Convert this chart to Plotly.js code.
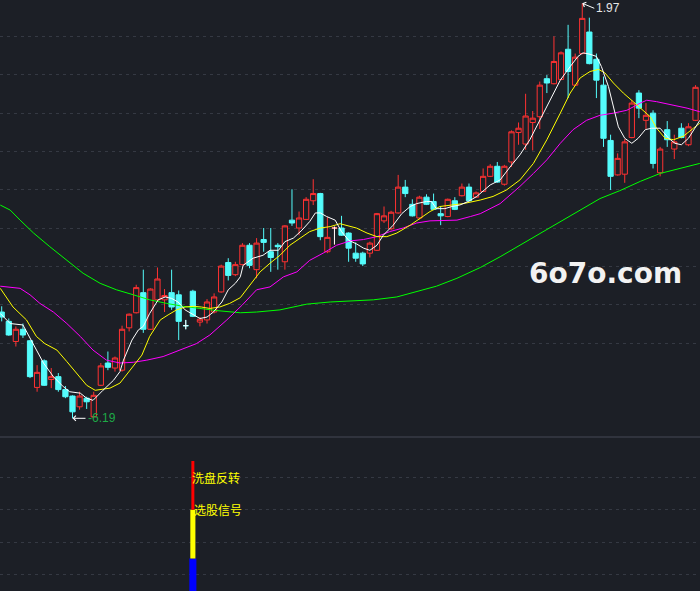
<!DOCTYPE html>
<html>
<head>
<meta charset="utf-8">
<script src="https://cdn.plot.ly/plotly-3.0.1.min.js"></script>
<style>
html,body{margin:0;padding:0;background:#1c1f26;}
#chart{width:700px;height:591px;}
#chart .plot path{shape-rendering:crispEdges;}
</style>
</head>
<body>
<div id="chart"></div>
<script>
// ---- candle data (price) ----
const openP  = [7.67,7.54,7.26,7.43,7.27,6.62,6.99,6.73,6.77,6.59,6.50,6.35,6.47,6.21,6.65,6.96,6.89,6.86,7.45,7.66,
                7.94,7.43,7.84,7.84,7.94,7.91,7.48,7.96,7.53,7.56,7.67,7.95,8.36,8.19,8.33,8.60,8.26,8.68,8.51,8.60,
                8.37,8.95,8.84,8.96,9.22,9.32,8.51,8.84,8.84,8.77,8.49,8.49,8.49,8.53,8.94,8.83,9.05,9.41,9.17,8.98,
                9.27,9.21,9.04,9.00,9.22,9.29,9.41,9.27,9.35,9.56,9.70,9.45,9.76,10.17,10.01,10.31,10.39,10.92,10.85,10.91,
                11.33,10.83,11.27,11.57,11.19,10.83,10.06,9.58,9.59,10.10,10.72,10.34,10.44,9.61,10.21,9.94,10.23,10.00,10.34];
const highP  = [7.75,7.58,7.47,7.51,7.28,6.93,7.01,6.89,6.82,6.64,6.51,6.56,6.49,6.56,6.96,7.12,7.05,7.48,7.65,8.05,
                8.26,8.00,8.29,7.99,8.26,7.97,7.56,7.98,7.60,7.85,7.93,8.33,8.42,8.37,8.63,8.63,8.70,8.84,8.84,8.63,
                8.88,9.38,9.07,9.27,9.52,9.33,8.99,8.86,9.01,8.78,8.64,8.51,8.65,9.05,9.14,9.08,9.58,9.51,9.24,9.29,
                9.31,9.32,9.14,9.25,9.27,9.46,9.46,9.35,9.67,9.73,9.76,9.72,10.20,10.31,10.71,10.47,10.88,10.97,11.51,11.30,
                11.67,11.27,11.97,11.77,11.27,10.95,10.14,9.88,10.08,10.62,10.76,10.58,10.48,9.97,10.33,10.14,10.30,10.30,10.83];
const lowP   = [7.54,7.34,7.19,7.31,6.75,6.56,6.64,6.61,6.56,6.47,6.19,6.31,6.32,6.21,6.64,6.86,6.84,6.84,7.40,7.65,
                7.38,7.42,7.81,7.67,7.70,7.28,7.43,7.60,7.47,7.51,7.65,7.94,8.11,8.17,8.32,8.28,8.14,8.51,8.23,8.26,
                8.26,8.87,8.74,8.95,9.16,8.67,8.49,8.61,8.73,8.37,8.37,8.31,8.43,8.52,8.91,8.81,9.04,9.27,9.00,8.96,
                9.16,9.09,8.88,8.99,9.09,9.28,9.21,9.26,9.34,9.55,9.47,9.43,9.69,10.00,9.93,9.92,10.22,10.72,10.84,10.90,
                10.65,10.82,11.26,11.12,10.65,9.97,9.37,9.57,9.47,10.09,10.37,10.22,9.67,9.56,9.97,9.80,10.09,9.98,10.33];
const closeP = [7.60,7.35,7.43,7.35,6.77,6.83,6.65,6.77,6.59,6.49,6.28,6.50,6.42,6.51,6.92,6.90,7.03,7.43,7.64,8.01,
                7.43,7.99,8.13,7.90,7.74,7.54,7.48,7.61,7.57,7.81,7.88,8.31,8.18,8.33,8.60,8.32,8.63,8.64,8.43,8.58,
                8.87,8.91,8.98,9.24,9.32,8.72,8.71,8.84,8.74,8.56,8.42,8.34,8.63,9.04,9.01,9.06,9.41,9.32,9.01,9.27,
                9.17,9.10,9.01,9.24,9.10,9.41,9.22,9.33,9.56,9.70,9.48,9.70,10.18,10.23,10.40,10.37,10.83,10.86,11.16,11.28,
                11.02,11.22,11.76,11.13,10.90,10.09,9.56,9.81,10.04,10.58,10.51,10.41,9.74,9.94,10.07,10.04,10.10,10.25,10.80];
const dojiIndex = [26, 47];

// ---- moving averages: [candle index, price] ----
const ma5Points = [[-0.2,7.65],[1.2,7.51],[3.0,7.49],[4.0,7.31],[4.9,7.14],[5.9,6.96],[7.3,6.77],[8.7,6.63],[9.6,6.56],[11.1,6.54],
  [12.0,6.47],[12.9,6.44],[14.3,6.58],[15.8,6.72],[16.7,6.84],[17.2,7.00],[18.4,7.28],[19.3,7.42],[20.0,7.47],[20.9,7.65],
  [22.1,7.84],[23.1,7.88],[24.0,7.86],[24.9,7.81],[25.9,7.70],[27.1,7.63],[28.0,7.58],[29.0,7.60],[29.9,7.67],[31.1,7.81],
  [32.0,7.98],[33.0,8.07],[33.7,8.16],[34.1,8.32],[35.5,8.42],[36.9,8.46],[37.9,8.53],[39.1,8.53],[40.0,8.65],[41.2,8.70],
  [42.4,8.81],[43.5,8.93],[44.3,9.05],[45.0,9.05],[45.9,9.00],[47.1,8.95],[48.0,8.79],[49.0,8.67],[50.1,8.62],[51.1,8.56],
  [52.0,8.53],[53.0,8.60],[53.9,8.74],[55.3,8.88],[56.5,9.04],[57.7,9.14],[58.6,9.18],[60.0,9.21],[60.7,9.21],[61.4,9.11],
  [62.6,9.11],[63.6,9.14],[64.7,9.16],[65.9,9.21],[67.1,9.28],[69.0,9.44],[70.4,9.51],[71.8,9.69],[73.2,9.86],[74.6,10.07],
  [76.0,10.34],[77.4,10.62],[78.9,10.90],[80.3,11.09],[81.4,11.23],[82.1,11.28],[83.1,11.26],[84.0,11.23],[84.7,11.09],[85.7,10.81],
  [86.4,10.53],[87.1,10.25],[88.0,10.09],[89.0,10.02],[89.9,10.09],[90.9,10.21],[91.8,10.23],[93.0,10.23],[94.2,10.09],[95.1,10.02],
  [96.0,10.00],[97.0,10.09],[97.9,10.23],[98.6,10.34]];
const ma10Points = [[-0.2,8.00],[1.6,7.74],[3.5,7.56],[4.9,7.33],[6.1,7.23],[7.8,7.14],[9.2,6.98],[10.6,6.82],[12.0,6.65],[13.2,6.58],
  [15.3,6.61],[16.7,6.68],[18.1,6.86],[19.8,7.07],[20.9,7.33],[22.4,7.56],[23.5,7.63],[24.7,7.70],[25.9,7.74],[27.1,7.75],
  [28.2,7.74],[29.4,7.72],[30.8,7.74],[32.2,7.79],[33.7,7.87],[35.1,8.05],[36.5,8.23],[37.9,8.35],[39.3,8.46],[40.7,8.60],
  [42.1,8.70],[43.5,8.79],[45.0,8.84],[46.4,8.86],[47.8,8.90],[48.7,8.88],[50.1,8.84],[51.6,8.77],[53.0,8.72],[54.4,8.72],
  [55.8,8.77],[57.7,8.88],[59.1,8.98],[60.5,9.07],[61.9,9.14],[63.3,9.16],[65.2,9.18],[67.6,9.23],[69.4,9.28],[71.3,9.37],
  [73.2,9.51],[75.1,9.74],[77.0,10.07],[78.9,10.44],[80.3,10.72],[81.7,10.93],[83.1,11.02],[84.3,11.05],[85.2,11.00],[86.4,10.86],
  [87.8,10.72],[89.2,10.60],[90.6,10.48],[91.6,10.39],[92.5,10.23],[93.7,10.09],[94.9,10.07],[96.3,10.12],[97.7,10.23],[98.6,10.30]];
const ma20Points = [[-0.2,8.03],[2.6,8.00],[4.0,7.91],[5.4,7.79],[7.3,7.67],[9.2,7.51],[11.1,7.33],[12.9,7.14],[14.8,7.00],[16.7,6.96],
  [18.6,6.97],[20.5,7.00],[22.8,7.05],[25.2,7.14],[27.5,7.23],[29.4,7.35],[31.8,7.56],[34.0,7.77],[36.0,7.98],[37.9,8.02],
  [39.8,8.16],[41.7,8.23],[43.5,8.39],[45.4,8.49],[47.3,8.60],[49.2,8.66],[51.1,8.68],[53.0,8.72],[54.8,8.79],[56.7,8.84],
  [58.6,8.91],[60.5,8.94],[62.4,8.94],[64.3,8.95],[66.2,9.00],[67.6,9.04],[70.4,9.18],[73.2,9.42],[75.1,9.60],[77.0,9.79],
  [78.9,10.02],[80.7,10.21],[82.6,10.34],[84.5,10.41],[86.4,10.44],[88.3,10.48],[90.2,10.58],[91.1,10.62],[92.5,10.60],[94.9,10.55],
  [96.8,10.51],[98.6,10.46]];
const ma60Points = [[-0.2,9.16],[1.2,9.09],[2.6,8.95],[4.5,8.77],[6.8,8.58],[9.2,8.39],[11.5,8.21],[13.9,8.07],[16.2,7.98],[18.6,7.91],
  [20.9,7.84],[23.3,7.79],[25.6,7.75],[28.0,7.72],[30.4,7.69],[33.7,7.66],[36.0,7.67],[39.3,7.70],[43.1,7.78],[46.4,7.81],
  [50.1,7.83],[52.5,7.84],[55.8,7.88],[58.6,7.95],[61.4,8.03],[64.3,8.14],[67.6,8.29],[70.4,8.44],[73.2,8.60],[76.0,8.77],
  [78.9,8.93],[81.7,9.09],[84.5,9.25],[87.3,9.36],[90.2,9.49],[93.0,9.60],[95.8,9.67],[98.6,9.74]];

// ---- lower panel signal ----
const signalIndex = [27];
const signalBlue = [1.0];     // from 0
const signalYellow = [1.5];   // from 1
const signalRed = [1.5];      // from 2.5
const signalLabels = ['洗盘反转', '选股信号'];
const signalLabelLevels = [3.5, 2.5];

// ---- labels ----
const highLabel = {index: 82, price: 11.97, text: '1.97'};
const lowLabel = {index: 10, price: 6.19, text: '-6.19'};
const watermarkText = '6o7o.com';

// ---- build ----
const BG = '#1c1f26';
const idx = openP.map((_, i) => i);
const splitDomain = 1 - 437 / 591;
const mainRange = [5.9295, 12.016];
const subRange = [0, 4.738];

// main grid rows (evenly spaced from top grid)
const gridTop = 11.505, gridStep = 0.5335, gridCount = 9;
const mainGrid = [];
for (let k = 0; k < gridCount; k++) mainGrid.push(gridTop - k * gridStep);

const traces = [];
traces.push({
  type: 'candlestick', x: idx, open: openP, high: highP, low: lowP, close: closeP,
  increasing: {line: {color: '#ff3232', width: 1}, fillcolor: BG},
  decreasing: {line: {color: '#54fcfc', width: 1}, fillcolor: '#54fcfc'},
  whiskerwidth: 0, hoverinfo: 'skip', showlegend: false
});
// doji crosses in white
const dx = [], dy = [];
dojiIndex.forEach(i => {
  dx.push(i, i, null, i - 0.34, i + 0.34, null);
  dy.push(highP[i], lowP[i], null, openP[i], openP[i], null);
});
traces.push({type: 'scatter', mode: 'lines', x: dx, y: dy, line: {color: '#ffffff', width: 1},
  hoverinfo: 'skip', showlegend: false});

function maTrace(points, color) {
  return {type: 'scatter', mode: 'lines', x: points.map(p => p[0]), y: points.map(p => p[1]),
    line: {color: color, width: 1}, hoverinfo: 'skip', showlegend: false};
}
traces.push(maTrace(ma60Points, '#00ff00'));
traces.push(maTrace(ma20Points, '#ff00ff'));
traces.push(maTrace(ma10Points, '#ffff00'));
traces.push(maTrace(ma5Points, '#ffffff'));

traces.push({type: 'bar', x: signalIndex, y: signalBlue, base: [0], width: [1.0], yaxis: 'y2',
  marker: {color: '#0000ff', line: {width: 0}}, hoverinfo: 'skip', showlegend: false});
traces.push({type: 'bar', x: signalIndex, y: signalYellow, base: [1.0], width: [0.72], yaxis: 'y2',
  marker: {color: '#ffff00', line: {width: 0}}, hoverinfo: 'skip', showlegend: false});
traces.push({type: 'bar', x: signalIndex, y: signalRed, base: [2.5], width: [0.42], yaxis: 'y2',
  marker: {color: '#ff0000', line: {width: 0}}, hoverinfo: 'skip', showlegend: false});

const annotations = [
  {x: highLabel.index, y: highLabel.price, xref: 'x', yref: 'y', text: highLabel.text,
   showarrow: true, ax: 12, ay: 5, xanchor: 'left', yanchor: 'middle',
   arrowhead: 4, arrowsize: 1, arrowwidth: 1, arrowcolor: '#ffffff',
   font: {family: 'Liberation Sans, Arial, sans-serif', size: 12, color: '#e6e6e6'}},
  {x: lowLabel.index, y: lowLabel.price, xref: 'x', yref: 'y', text: lowLabel.text,
   showarrow: true, ax: 13, ay: 0, xanchor: 'left', yanchor: 'middle',
   arrowhead: 4, arrowsize: 1, arrowwidth: 1, arrowcolor: '#ffffff',
   font: {family: 'Liberation Sans, Arial, sans-serif', size: 12, color: '#1eaa46'}},
  {x: 0.8653, y: 1 - 273.5 / 591, xref: 'paper', yref: 'paper', text: watermarkText,
   showarrow: false, xanchor: 'center', yanchor: 'middle',
   font: {family: 'DejaVu Sans, sans-serif', size: 28, color: '#f2f2f2', weight: 'bold'}}
];
signalLabels.forEach((t, k) => {
  annotations.push({x: signalIndex[0], y: signalLabelLevels[k], xref: 'x', yref: 'y2', text: t,
    showarrow: false, xanchor: 'left', yanchor: 'middle', xshift: -3 + k * 2,
    font: {family: 'Noto Sans CJK SC, sans-serif', size: 12, color: '#ffff00'}});
});

const layout = {
  width: 700, height: 591,
  margin: {l: 0, r: 0, t: 0, b: 0, pad: 0},
  paper_bgcolor: BG, plot_bgcolor: BG,
  showlegend: false, dragmode: false,
  boxgap: 0.26, boxgroupgap: 0, barmode: 'overlay',
  xaxis: {range: [-0.24, 98.63], showgrid: false, zeroline: false, showticklabels: false,
    ticks: '', showline: false, rangeslider: {visible: false}, fixedrange: true},
  yaxis: {domain: [splitDomain, 1], range: mainRange, tickvals: mainGrid, showticklabels: false,
    ticks: '', showgrid: true, gridcolor: '#353943', griddash: '3px,4px', gridwidth: 1,
    zeroline: false, showline: false, fixedrange: true},
  yaxis2: {domain: [0, splitDomain], range: subRange, tickvals: [0.5, 1.5, 2.5, 3.5], showticklabels: false,
    ticks: '', showgrid: true, gridcolor: '#353943', griddash: '3px,4px', gridwidth: 1,
    zeroline: false, showline: false, fixedrange: true},
  shapes: [
    {type: 'line', xref: 'paper', yref: 'paper', x0: 0, x1: 1, y0: splitDomain, y1: splitDomain,
     line: {color: '#444955', width: 1}}
  ],
  annotations: annotations
};

Plotly.newPlot('chart', traces, layout, {displayModeBar: false, staticPlot: true});
</script>
</body>
</html>
